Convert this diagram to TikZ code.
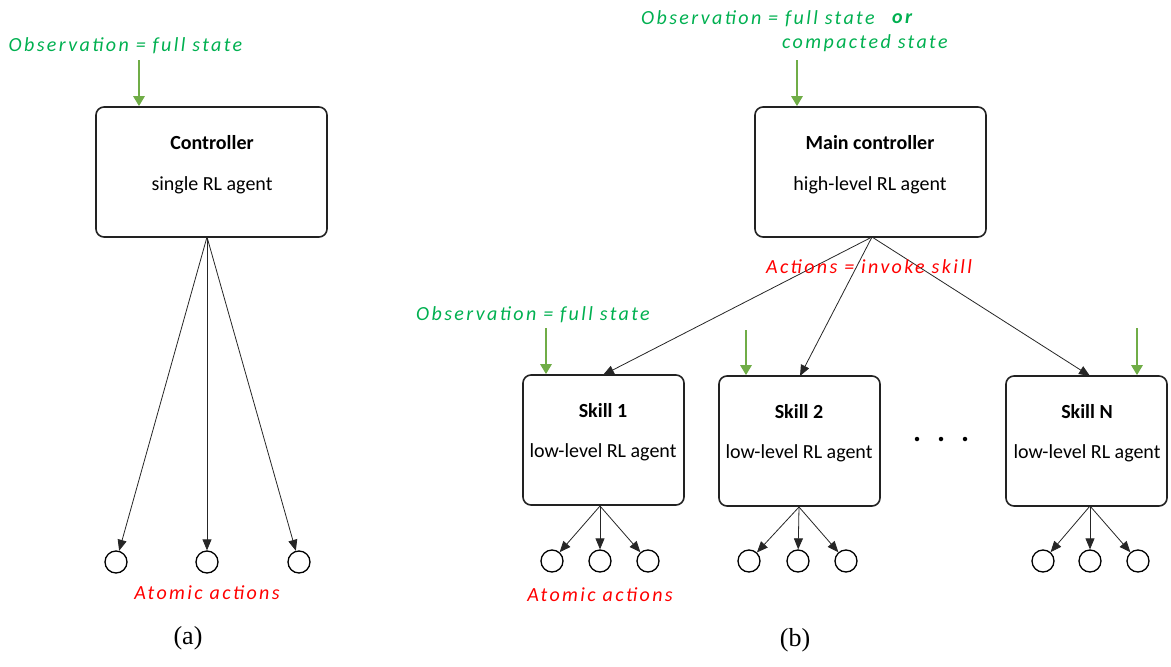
\documentclass[tikz,border=0pt]{standalone}
\usepackage{fontspec}
\setmainfont{Carlito}
\newfontfamily\capserif{Liberation Serif}
\newfontfamily\spaced[LetterSpace=12]{Carlito}
\usetikzlibrary{arrows.meta}
\definecolor{obsgreen}{RGB}{0,176,80}
\definecolor{arrgreen}{RGB}{112,173,71}
\definecolor{actred}{RGB}{255,0,0}
\definecolor{boxline}{RGB}{34,34,34}
\begin{document}
\begin{tikzpicture}[x=1pt,y=-1pt,
  bigbox/.style={draw=boxline,line width=1.6pt,rounded corners=8pt,minimum width=231pt,minimum height=130pt,inner sep=0pt},
  skillbox/.style={draw=boxline,line width=1.6pt,rounded corners=8pt,minimum width=161pt,minimum height=130pt,inner sep=0pt},
  title/.style={font=\fontsize{20}{24}\selectfont\bfseries,inner sep=0pt},
  sub/.style={font=\fontsize{20}{24}\selectfont,inner sep=0pt},
  obs/.style={font=\fontsize{20}{23}\selectfont\spaced\itshape,text=obsgreen,inner sep=0pt},
  act/.style={font=\fontsize{20}{23}\selectfont\spaced\itshape,text=actred,inner sep=0pt},
  atom/.style={draw=black,circle,line width=1.3pt,minimum size=22pt,inner sep=0pt},
  thin/.style={draw=black!85,line width=0.8pt,-{Triangle[length=11pt,width=9pt]}},
  greenarr/.style={draw=arrgreen,line width=2.5pt,-{Triangle[length=10pt,width=11pt]}},
  caption/.style={font=\fontsize{26}{30}\selectfont\capserif,inner sep=0pt}]
\useasboundingbox (0,0) rectangle (1171,667);

% ---------- (a) ----------
\node[obs] (obsa) at (125.5,46) {Observation = full state};
\node[bigbox] (ctrl) at (211.5,172) {};
\node[title] (ctrlt) at (212,143) {Controller};
\node[sub] (ctrls) at (212,185) {single RL agent};
\coordinate (ga) at (139,60);
\draw[greenarr] (ga) -- (ga |- ctrl.north);
\coordinate (ca) at (207,237);
\node[atom] (a1) at (116,562) {};
\node[atom] (a2) at (207,562) {};
\node[atom] (a3) at (299,562) {};
\draw[thin] (ca) -- (a1);
\draw[thin] (ca) -- (a2);
\draw[thin] (ca) -- (a3);
\node[act] (atoma) at (207,593) {Atomic actions};
\node[caption] (capa) at (188,638) {(a)};

% ---------- (b) ----------
\node[obs,anchor=west] (obsb) at (641,19) {Observation = full state};
\node[obs,anchor=west,font=\fontsize{20}{23}\selectfont\spaced\bfseries\itshape] (orb) at (892,19) {or};
\node[obs,anchor=west] (compb) at (782,43) {compacted state};
\node[bigbox] (main) at (870.5,172) {};
\node[title] (maint) at (870,143) {Main controller};
\node[sub] (mains) at (870,185) {high-level RL agent};
\coordinate (gb) at (797,60);
\draw[greenarr] (gb) -- (gb |- main.north);

\node[skillbox] (s1) at (603.5,440) {};
\node[skillbox] (s2) at (799.5,441) {};
\node[skillbox] (sn) at (1086.5,441) {};
\node[title] (s1t) at (603,411) {Skill 1};
\node[sub] (s1s) at (603,452) {low-level RL agent};
\node[title] (s2t) at (799,412) {Skill 2};
\node[sub] (s2s) at (799,453) {low-level RL agent};
\node[title] (snt) at (1087,412) {Skill N};
\node[sub] (sns) at (1087,453) {low-level RL agent};

\coordinate (mb) at (872,237);
\coordinate (t1) at (603,375);
\coordinate (t2) at (800,376);
\coordinate (tn) at (1090,376);
\draw[thin] (mb) -- (t1);
\draw[thin] (mb) -- (t2);
\draw[thin] (mb) -- (tn);
\node[act] (inv) at (869,267) {Actions = invoke skill};

\node[obs] (obss) at (533,315) {Observation = full state};
\coordinate (g1) at (546,328);
\coordinate (g2) at (746,330);
\coordinate (gn) at (1137,328);
\draw[greenarr] (g1) -- (g1 |- s1.north);
\draw[greenarr] (g2) -- (g2 |- s2.north);
\draw[greenarr] (gn) -- (gn |- sn.north);

\node[circle,fill=black,inner sep=0pt,minimum size=4.5pt] (d1) at (917,439) {};
\node[circle,fill=black,inner sep=0pt,minimum size=4.5pt] (d2) at (941,439) {};
\node[circle,fill=black,inner sep=0pt,minimum size=4.5pt] (d3) at (965,439) {};

% atomic actions of skills
\coordinate (b1) at (600,506);
\coordinate (b2) at (799,507);
\coordinate (bn) at (1090,506);
\node[atom] (p1) at (552,561) {};
\node[atom] (p2) at (600,561) {};
\node[atom] (p3) at (648,561) {};
\node[atom] (q1) at (749,561) {};
\node[atom] (q2) at (798,561) {};
\node[atom] (q3) at (846,561) {};
\node[atom] (r1) at (1043,561) {};
\node[atom] (r2) at (1090,561) {};
\node[atom] (r3) at (1138,561) {};
\foreach \n in {p1,p2,p3} \draw[thin] (b1) -- (\n);
\foreach \n in {q1,q2,q3} \draw[thin] (b2) -- (\n);
\foreach \n in {r1,r2,r3} \draw[thin] (bn) -- (\n);
\node[act] (atomb) at (600,595) {Atomic actions};
\node[caption] (capb) at (795,640) {(b)};
\end{tikzpicture}
\end{document}
